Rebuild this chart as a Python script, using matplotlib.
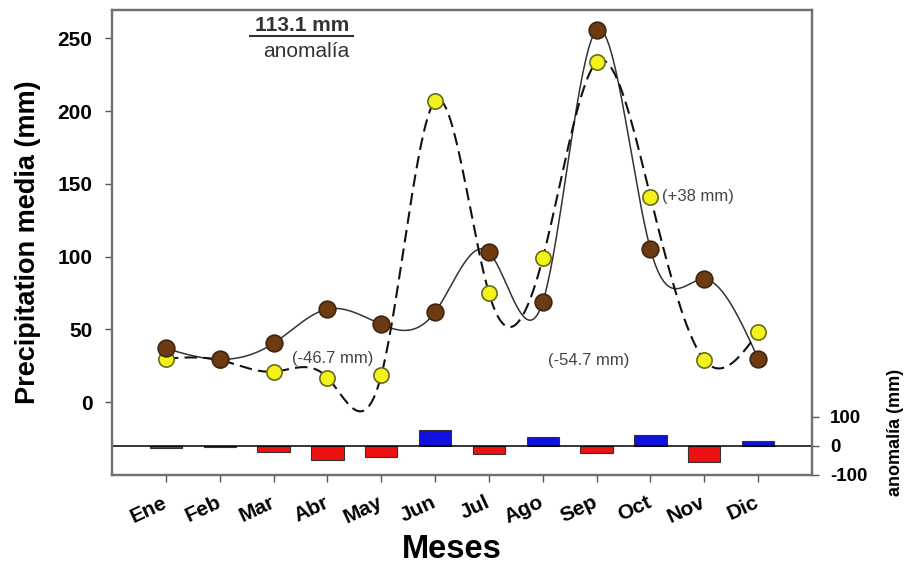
import numpy as np
import matplotlib
matplotlib.use("Agg")
import matplotlib.pyplot as plt
from matplotlib.transforms import ScaledTranslation

months = ["Ene", "Feb", "Mar", "Abr", "May", "Jun", "Jul", "Ago", "Sep", "Oct", "Nov", "Dic"]
precip_mean = [37, 29.5, 40.5, 64, 53.5, 62, 103, 69, 255.5, 105, 84.5, 30]
precip_year = [30, 29, 21, 17, 18.5, 207, 75, 99, 233.5, 141, 29, 48]
anomaly = [-7, -2, -20, -46.7, -37, 55, -27, 31, -24, 38, -54.7, 17]
left_ticks = [0, 50, 100, 150, 200, 250]
right_ticks = [-100, 0, 100]

plt.rcParams['font.family'] = ['Liberation Sans', 'DejaVu Sans']


def natural_spline(x, y, n=400):
    x = np.asarray(x, float)
    y = np.asarray(y, float)
    k = len(x)
    h = np.diff(x)
    A = np.zeros((k, k))
    b = np.zeros(k)
    A[0, 0] = A[-1, -1] = 1
    for i in range(1, k - 1):
        A[i, i - 1] = h[i - 1]
        A[i, i] = 2 * (h[i - 1] + h[i])
        A[i, i + 1] = h[i]
        b[i] = 3 * ((y[i + 1] - y[i]) / h[i] - (y[i] - y[i - 1]) / h[i - 1])
    c = np.linalg.solve(A, b)
    xs = np.linspace(x[0], x[-1], n)
    idx = np.clip(np.searchsorted(x, xs) - 1, 0, k - 2)
    dx = xs - x[idx]
    bb = (y[idx + 1] - y[idx]) / h[idx] - h[idx] * (2 * c[idx] + c[idx + 1]) / 3
    dd = (c[idx + 1] - c[idx]) / (3 * h[idx])
    ys = y[idx] + bb * dx + c[idx] * dx ** 2 + dd * dx ** 3
    return xs, ys


x = np.arange(1, 13)

fig = plt.figure(figsize=(9.07, 5.67), dpi=100)
ax = fig.add_axes([0.1235, 0.1623, 0.7718, 0.8201])
ax2 = ax.twinx()

# anomaly bars on the secondary scale
bar_colors = ['#ee1111' if v < 0 else '#1111dd' for v in anomaly]
ax2.bar(x, anomaly, width=0.6, color=bar_colors, edgecolor='#333333', linewidth=0.8, zorder=2)
ax2.axhline(0, color='black', lw=1.1, zorder=3)
ax2.set_ylim(-100, 1503)
ax2.set_yticks(right_ticks)
ax2.set_yticklabels([str(t) for t in right_ticks], fontsize=13.5, fontweight='bold')
ax2.tick_params(axis='y', direction='out', length=5, width=1, color='#555555', pad=8)
fig.text(895 / 907, 1 - 432 / 567, "anomalía (mm)", fontsize=13, fontweight='bold',
         rotation=90, ha='center', va='center')

# precipitation curves on the main scale (drawn above the twin axis)
ax.set_zorder(ax2.get_zorder() + 1)
ax.patch.set_visible(False)
xs, ys = natural_spline(x, precip_mean)
ax.plot(xs, ys, color='#333333', lw=1.1, zorder=3)
xs, ys = natural_spline(x, precip_year)
ax.plot(xs, ys, color='#111111', lw=1.5, ls=(0, (6, 3)), zorder=3)
ax.plot(x, precip_year, 'o', ms=11, mfc='#f2f21c', mec='#6b6b20', mew=1.2, zorder=4)
ax.plot(x, precip_mean, 'o', ms=12, mfc='#6e3a12', mec='#3f2510', mew=1.2, zorder=5)

ax.set_xlim(0, 13)
ax.set_ylim(-49.9, 269.4)
ax.set_yticks(left_ticks)
ax.set_yticklabels([str(t) for t in left_ticks], fontsize=15, fontweight='bold')
ax.set_xticks(x)
ax.set_xticklabels(months, rotation=25, fontsize=15, fontweight='bold',
                   ha='right', va='center', rotation_mode='anchor')
shift = ScaledTranslation(4 / 100, 0, fig.dpi_scale_trans)
for lbl in ax.get_xticklabels():
    lbl.set_transform(lbl.get_transform() + shift)
ax.tick_params(axis='y', direction='out', length=5, width=1, color='#555555', pad=9)
ax.tick_params(axis='x', direction='out', length=5, width=1, color='#555555', pad=14)
ax.set_ylabel("Precipitation media (mm)", fontsize=19.5, fontweight='bold', labelpad=12)
fig.text(452 / 907, 1 - 558 / 567, "Meses", fontsize=23.5, fontweight='bold',
         ha='center', va='baseline')

for a in (ax, ax2):
    for s in a.spines.values():
        s.set_color('#707070')
        s.set_linewidth(1.6)

ax.text(0.339, 0.946, "113.1 mm", transform=ax.transAxes, fontsize=15,
        fontweight='bold', color='#333333', ha='right', va='bottom')
ax.plot([0.197, 0.3445], [0.944, 0.944], transform=ax.transAxes, color='#333333', lw=1.5)
ax.text(0.339, 0.932, "anomalía", transform=ax.transAxes, fontsize=15,
        color='#333333', ha='right', va='top')

ax.text(4.1, 30, "(-46.7 mm)", fontsize=12, color='#444444', ha='center', va='center')
ax.text(10.22, 141, "(+38 mm)", fontsize=12, color='#444444', ha='left', va='center')
ax.text(9.6, 29, "(-54.7 mm)", fontsize=12, color='#444444', ha='right', va='center')

fig.savefig("out.png", dpi=100)
